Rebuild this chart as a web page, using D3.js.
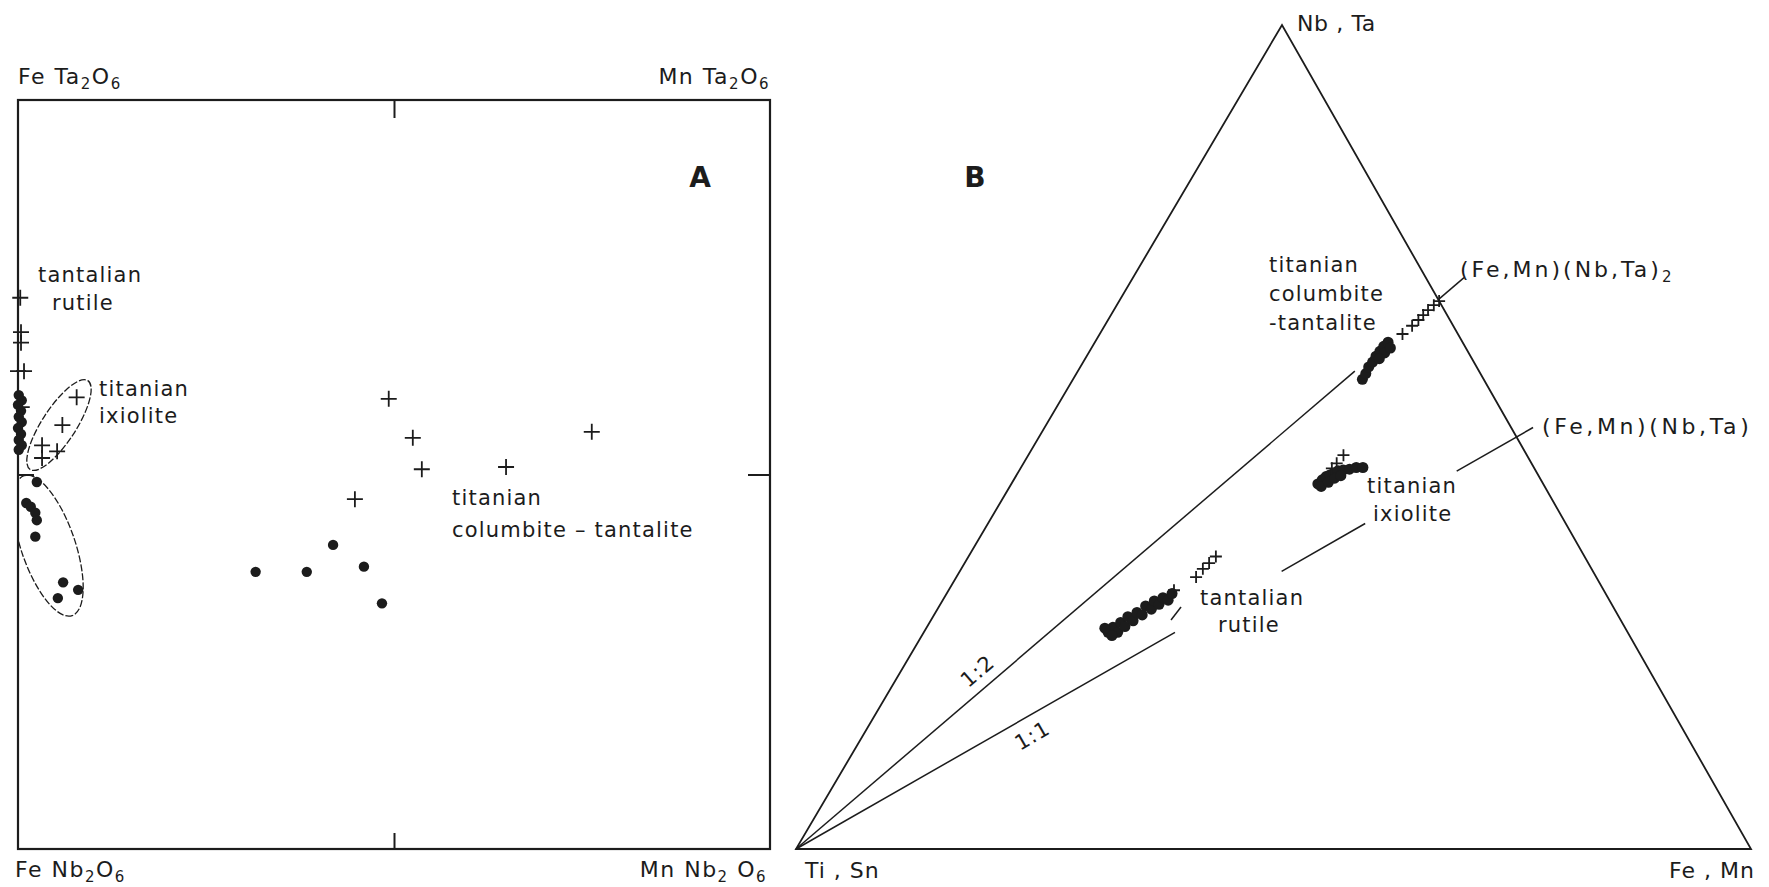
<!DOCTYPE html>
<html>
<head>
<meta charset="utf-8">
<script src="https://cdn.jsdelivr.net/npm/d3@7"></script>
<style>
  body { margin: 0; background: #fff; }
  text { font-family: "DejaVu Sans", sans-serif; fill: #1c1c1c; }
</style>
</head>
<body>
<svg id="chart" width="1769" height="887"></svg>
<script>
// ---- panel A : [Mn/(Fe+Mn), Ta/(Ta+Nb)]
const crossesA = [
  [0.003, 0.736], [0.004, 0.690], [0.004, 0.676], [0.0, 0.638], [0.008, 0.638], [0.005, 0.590],
  [0.078, 0.603], [0.059, 0.566], [0.032, 0.539], [0.052, 0.531], [0.032, 0.522],
  [0.493, 0.601], [0.525, 0.549], [0.537, 0.507], [0.649, 0.510], [0.763, 0.557], [0.448, 0.467]
];
const dotsA = [
  [0.001, 0.606], [0.005, 0.599], [0.0, 0.593], [0.004, 0.585], [0.001, 0.577], [0.005, 0.570],
  [0.0, 0.562], [0.004, 0.554], [0.001, 0.546], [0.005, 0.539], [0.001, 0.533],
  [0.025, 0.490], [0.011, 0.462], [0.017, 0.457], [0.023, 0.449], [0.025, 0.439], [0.023, 0.417],
  [0.060, 0.356], [0.080, 0.346], [0.053, 0.335],
  [0.316, 0.370], [0.384, 0.370], [0.419, 0.406], [0.460, 0.377], [0.484, 0.328]
];

// ---- panel B : [Ti+Sn, Fe+Mn, Nb+Ta]
const crossesB = [
  [0.058, 0.317, 0.625], [0.043, 0.322, 0.635], [0.033, 0.325, 0.642], [0.025, 0.327, 0.648],
  [0.017, 0.329, 0.654], [0.008, 0.332, 0.660], [0.0, 0.335, 0.665],
  [0.192, 0.330, 0.478], [0.204, 0.328, 0.468], [0.212, 0.326, 0.462],
  [0.450, 0.236, 0.314], [0.419, 0.251, 0.330], [0.407, 0.253, 0.340], [0.397, 0.256, 0.347], [0.386, 0.259, 0.355]
];
const dotsB = [
  [0.127, 0.303, 0.570], [0.120, 0.303, 0.577], [0.113, 0.302, 0.585], [0.106, 0.303, 0.591],
  [0.099, 0.303, 0.598], [0.092, 0.304, 0.604], [0.085, 0.305, 0.610], [0.078, 0.307, 0.615],
  [0.088, 0.310, 0.602], [0.097, 0.308, 0.595], [0.079, 0.313, 0.608],
  [0.236, 0.321, 0.443], [0.229, 0.323, 0.448], [0.223, 0.325, 0.452], [0.218, 0.328, 0.454],
  [0.213, 0.331, 0.456], [0.207, 0.334, 0.459], [0.201, 0.339, 0.460], [0.194, 0.345, 0.461],
  [0.186, 0.351, 0.463], [0.179, 0.358, 0.463], [0.234, 0.326, 0.440], [0.224, 0.331, 0.445],
  [0.215, 0.335, 0.450], [0.207, 0.340, 0.453],
  [0.544, 0.193, 0.263], [0.536, 0.195, 0.269], [0.534, 0.203, 0.263], [0.525, 0.200, 0.275],
  [0.523, 0.207, 0.270], [0.514, 0.204, 0.282], [0.511, 0.212, 0.277], [0.502, 0.211, 0.287],
  [0.498, 0.218, 0.284], [0.489, 0.216, 0.295], [0.485, 0.224, 0.291], [0.477, 0.222, 0.301],
  [0.474, 0.229, 0.297], [0.466, 0.229, 0.305], [0.462, 0.236, 0.302], [0.454, 0.236, 0.310],
  [0.542, 0.199, 0.259], [0.545, 0.187, 0.268]
];

const ink = '#1c1c1c';
const svg = d3.select('#chart');

function formula(g, px, py, parts, anchor) {
  const t = g.append('text').attr('x', px).attr('y', py)
    .attr('font-size', 22).attr('letter-spacing', 1.5)
    .attr('text-anchor', anchor || 'start');
  let low = false;
  parts.forEach(p => {
    const sub = Array.isArray(p);
    const s = t.append('tspan').text(sub ? p[0] : p);
    if (sub && !low) s.attr('dy', 5);
    if (!sub && low) s.attr('dy', -5);
    if (sub) s.attr('font-size', 15);
    low = sub;
  });
  return t;
}

function words(g, px, py, str, opts) {
  opts = opts || {};
  return g.append('text').attr('x', px).attr('y', py)
    .attr('font-size', opts.size || 21)
    .attr('letter-spacing', opts.spacing == null ? 1.2 : opts.spacing)
    .attr('text-anchor', opts.anchor || 'start')
    .text(str);
}

const crossPath = s => `M${-s},0H${s}M0,${-s}V${s}`;

// ================= panel A =================
const x = d3.scaleLinear().domain([0, 1]).range([18, 770]);
const y = d3.scaleLinear().domain([0, 1]).range([849, 100]);
const gA = svg.append('g');

gA.append('clipPath').attr('id', 'clipA').append('rect')
  .attr('x', x(0)).attr('y', y(1)).attr('width', x(1) - x(0)).attr('height', y(0) - y(1));

gA.append('rect')
  .attr('x', x(0)).attr('y', y(1))
  .attr('width', x(1) - x(0)).attr('height', y(0) - y(1))
  .attr('fill', 'none').attr('stroke', ink).attr('stroke-width', 2.2);

const tickAxes = [
  [d3.axisBottom(x), `translate(0,${y(0)})`, -16],
  [d3.axisTop(x), `translate(0,${y(1)})`, -18],
  [d3.axisLeft(y), `translate(${x(0)},0)`, -16],
  [d3.axisRight(y), `translate(${x(1)},0)`, -22]
];
tickAxes.forEach(([ax, tr, len]) => {
  gA.append('g').attr('transform', tr)
    .call(ax.tickValues([0.5]).tickSize(len).tickFormat(''))
    .call(g => g.select('.domain').remove())
    .selectAll('line').attr('stroke', ink).attr('stroke-width', 2);
});

// outlined groups
const ellipsesA = [
  { c: [0.0545, 0.566], rx: 53, ry: 17, rot: -57 },
  { c: [0.040, 0.405], rx: 74, ry: 27, rot: 71 }
];
gA.append('g').attr('clip-path', 'url(#clipA)')
  .selectAll('ellipse').data(ellipsesA).join('ellipse')
  .attr('cx', d => x(d.c[0])).attr('cy', d => y(d.c[1]))
  .attr('rx', d => d.rx).attr('ry', d => d.ry)
  .attr('transform', d => `rotate(${d.rot},${x(d.c[0])},${y(d.c[1])})`)
  .attr('fill', 'none').attr('stroke', ink).attr('stroke-width', 1.3)
  .attr('stroke-dasharray', '7,2');

gA.append('g').selectAll('circle').data(dotsA).join('circle')
  .attr('cx', d => x(d[0])).attr('cy', d => y(d[1])).attr('r', 5.2)
  .attr('fill', ink);

gA.append('g').selectAll('path').data(crossesA).join('path')
  .attr('transform', d => `translate(${x(d[0])},${y(d[1])})`)
  .attr('d', crossPath(8)).attr('stroke', ink).attr('stroke-width', 1.8);

formula(gA, 18, 84, ['Fe Ta', ['2'], 'O', ['6']]);
formula(gA, 770, 84, ['Mn Ta', ['2'], 'O', ['6']], 'end');
formula(gA, 15, 877, ['Fe Nb', ['2'], 'O', ['6']]);
formula(gA, 767, 877, ['Mn Nb', ['2'], ' O', ['6']], 'end');

gA.append('text').attr('x', 700).attr('y', 187).attr('text-anchor', 'middle')
  .attr('font-size', 28).attr('font-weight', 'bold').text('A');

words(gA, 38, 282, 'tantalian');
words(gA, 52, 310, 'rutile');
words(gA, 99, 396, 'titanian');
words(gA, 99, 423, 'ixiolite');
words(gA, 452, 505, 'titanian');
words(gA, 452, 537, 'columbite – tantalite');

// ================= panel B =================
const L = [796, 849], R = [1751, 849], T = [1282, 25];
const xb = d3.scaleLinear().domain([0, 1]).range([L[0], R[0]]);
const yb = d3.scaleLinear().domain([0, 1]).range([L[1], T[1]]);
const apexShift = (T[0] - L[0]) / (R[0] - L[0]);
const tern = d => [xb(d[1] + d[2] * apexShift), yb(d[2])];

const gB = svg.append('g');

gB.append('path')
  .attr('d', d3.line()([[1, 0, 0], [0, 1, 0], [0, 0, 1]].map(tern)) + 'Z')
  .attr('fill', 'none').attr('stroke', ink).attr('stroke-width', 1.8)
  .attr('stroke-linejoin', 'miter');

// 1:2 and 1:1 lines from the Ti,Sn corner (broken where labels sit)
const ratioLines = [
  { name: '1:2', end: [0, 1 / 3, 2 / 3], pieces: [[0, 0.87], [1.0, 1.04]], tLab: 0.3, off: -16 },
  { name: '1:1', end: [0, 0.5, 0.5], pieces: [[0, 0.526], [0.674, 0.79], [0.917, 1.023]], tLab: 0.315, off: 20 }
];
const along = (e, t) => [1 - t, t * e[1], t * e[2]];
ratioLines.forEach(r => {
  r.pieces.forEach(([t0, t1]) => {
    gB.append('path').attr('d', d3.line()([along(r.end, t0), along(r.end, t1)].map(tern)))
      .attr('stroke', ink).attr('stroke-width', 1.5).attr('fill', 'none');
  });
  const p0 = tern(along(r.end, 0)), p1 = tern(along(r.end, 1));
  const ang = Math.atan2(p1[1] - p0[1], p1[0] - p0[0]);
  const pm = tern(along(r.end, r.tLab));
  const nx = -Math.sin(ang), ny = Math.cos(ang);
  const cx = pm[0] + nx * r.off, cy = pm[1] + ny * r.off;
  gB.append('text').attr('x', cx).attr('y', cy)
    .attr('text-anchor', 'middle').attr('dominant-baseline', 'middle')
    .attr('font-size', 21).attr('letter-spacing', 1)
    .attr('transform', `rotate(${ang * 180 / Math.PI},${cx},${cy})`)
    .text(r.name);
});

// short leader toward the rutile group
gB.append('path').attr('d', d3.line()([[0.4708, 0.2512, 0.278], [0.4526, 0.2537, 0.2937]].map(tern)))
  .attr('stroke', ink).attr('stroke-width', 1.5);

gB.append('g').selectAll('circle').data(dotsB).join('circle')
  .attr('cx', d => tern(d)[0]).attr('cy', d => tern(d)[1]).attr('r', 5.5)
  .attr('fill', ink);

gB.append('g').selectAll('path').data(crossesB).join('path')
  .attr('transform', d => `translate(${tern(d)[0]},${tern(d)[1]})`)
  .attr('d', crossPath(6)).attr('stroke', ink).attr('stroke-width', 1.8);

gB.append('text').attr('x', 975).attr('y', 187).attr('text-anchor', 'middle')
  .attr('font-size', 28).attr('font-weight', 'bold').text('B');

words(gB, 1297, 31, 'Nb , Ta', { size: 22, spacing: 0.6 });
words(gB, 805, 878, 'Ti , Sn', { size: 22, spacing: 1 });
words(gB, 1755, 878, 'Fe , Mn', { size: 22, spacing: 1, anchor: 'end' });

words(gB, 1269, 272, 'titanian');
words(gB, 1269, 301, 'columbite');
words(gB, 1269, 330, '-tantalite');
formula(gB, 1460, 277, ['(Fe,Mn)(Nb,Ta)', ['2']]).attr('letter-spacing', 3);
formula(gB, 1542, 434, ['(Fe,Mn)(Nb,Ta)']).attr('letter-spacing', 3.6);
words(gB, 1367, 493, 'titanian');
words(gB, 1373, 521, 'ixiolite');
words(gB, 1200, 605, 'tantalian');
words(gB, 1218, 632, 'rutile');
</script>
</body>
</html>
